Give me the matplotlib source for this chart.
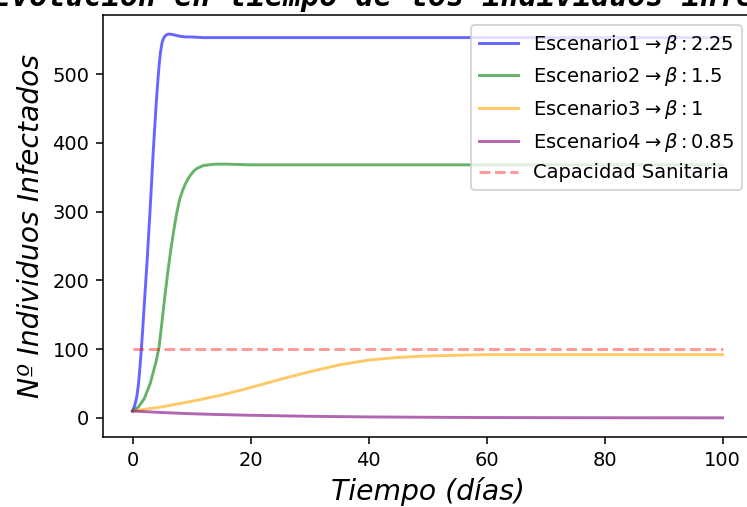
import matplotlib
matplotlib.use('Agg')
from matplotlib import pyplot as plt

# valores
t1 = [0, 0.25, 0.5, 0.75, 1, 1.25, 1.5, 1.75, 2, 2.5, 3, 3.5, 4, 4.25, 4.5, 4.75, 5, 5.25,
      5.5, 5.75, 6, 6.5, 7, 8, 9, 10, 12, 15, 20, 30, 50, 100]
esc1 = [10, 15, 22, 32, 48, 72, 100, 132, 165, 232, 305, 385, 455, 485, 512, 532, 545, 552,
        555, 557, 558, 558, 557, 555, 554, 554, 553, 553, 553, 553, 553, 553]

t2 = [0, 1, 2, 3, 4, 4.5, 5, 5.5, 6, 6.5, 7, 7.5, 8, 8.5, 9, 9.5, 10, 10.5, 11, 11.5, 12,
      13, 14, 16, 20, 30, 50, 100]
esc2 = [10, 16, 28, 50, 82, 103, 140, 178, 213, 245, 273, 298, 318, 331, 341, 349, 355, 360,
        363, 365, 367, 368, 369, 369, 368, 368, 368, 368]

t3 = [0, 5, 10, 15, 20, 25, 30, 35, 40, 45, 50, 55, 60, 70, 80, 100]
esc3 = [10, 16, 24, 33, 44, 56, 67, 77, 84, 88, 90, 91, 92, 92, 92, 92]

t4 = [0, 5, 10, 15, 20, 30, 40, 50, 60, 80, 100]
esc4 = [10, 7.8, 6.0, 4.8, 3.8, 2.3, 1.4, 0.9, 0.5, 0.2, 0.1]

capacidad = 100
t_cap = [0, 100]

etiquetas = [r'Escenario1$\rightarrow\beta:2.25$',
             r'Escenario2$\rightarrow\beta:1.5$',
             r'Escenario3$\rightarrow\beta:1$',
             r'Escenario4$\rightarrow\beta:0.85$',
             'Capacidad Sanitaria']

fig = plt.figure(figsize=(747/140, 507/140), dpi=140)
ax = fig.add_axes([103/747, 1 - 437/507, 649/747, 422/507])

ax.plot(t1, esc1, color='blue', alpha=0.6, label=etiquetas[0])
ax.plot(t2, esc2, color='green', alpha=0.6, label=etiquetas[1])
ax.plot(t3, esc3, color='orange', alpha=0.6, label=etiquetas[2])
ax.plot(t4, esc4, color='purple', alpha=0.6, label=etiquetas[3])
ax.plot(t_cap, [capacidad, capacidad], '--', color='red', alpha=0.4, label=etiquetas[4])

ax.set_title('Evolución en tiempo de los individuos infectados', fontsize=15.5,
             family='monospace', weight='bold', style='italic', pad=4.5)
ax.set_xlabel('Tiempo (días)', fontsize=14.5, style='italic')
ax.set_ylabel('Nº Individuos Infectados', fontsize=14.5, style='italic')
ax.legend(loc='upper right')

fig.savefig('out.png', dpi=140)
